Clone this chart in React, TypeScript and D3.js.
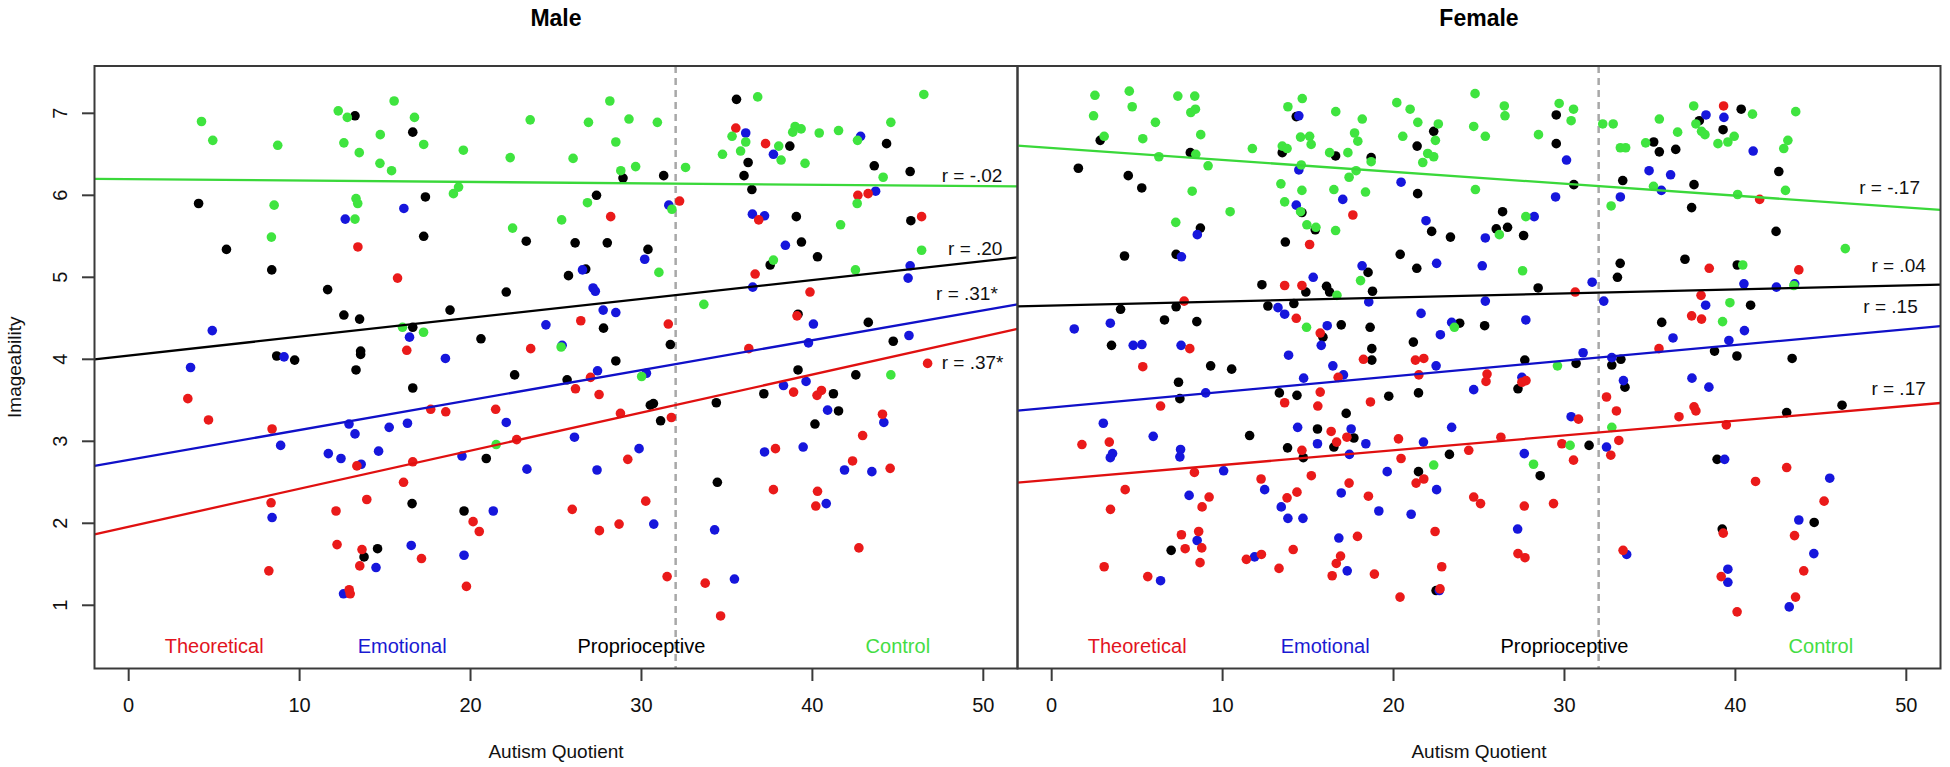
import { useEffect } from 'react';
import * as d3 from 'd3';

// [autism quotient, imageability] per word category
const maleTheoretical: [number, number][] = [
  [13.41, 5.37], [15.73, 4.99], [32.23, 5.93], [28.2, 5.74], [35.52, 6.82], [37.26, 6.63], [36.86, 5.7], [36.65, 5.04], [39.86, 4.82],
  [16.27, 4.11], [3.46, 3.52], [4.67, 3.26], [8.39, 3.15], [17.67, 3.39], [18.55, 3.36], [13.35, 2.7], [16.62, 2.75], [16.08, 2.5],
  [13.93, 2.29], [8.33, 2.25], [12.13, 2.15], [12.19, 1.74], [13.65, 1.68], [26.45, 4.47], [31.57, 4.43], [23.52, 4.13], [27.02, 3.78],
  [26.14, 3.64], [27.52, 3.57], [21.47, 3.39], [28.77, 3.34], [31.75, 3.29], [22.7, 3.02], [29.2, 2.78], [36.28, 4.13], [39.1, 4.53],
  [38.9, 3.6], [40.27, 3.56], [37.84, 2.91], [37.72, 2.41], [40.3, 2.39], [40.2, 2.21], [30.25, 2.27], [25.95, 2.17], [20.15, 2.02],
  [20.51, 1.9], [27.54, 1.91], [28.69, 1.99], [42.66, 6.0], [43.26, 6.02], [46.39, 5.74], [46.74, 3.95], [40.53, 3.62], [44.1, 3.33],
  [42.94, 3.07], [42.35, 2.76], [44.55, 2.67], [42.72, 1.7], [13.52, 1.48], [17.13, 1.57], [8.2, 1.42], [12.9, 1.19], [12.96, 1.14],
  [19.76, 1.23], [31.5, 1.35], [33.73, 1.27], [34.63, 0.87],
];
const maleEmotional: [number, number][] = [
  [12.67, 5.71], [16.1, 5.84], [31.6, 5.88], [30.19, 5.22], [26.55, 5.09], [27.17, 4.87], [27.3, 4.83], [36.1, 6.76], [37.72, 6.5],
  [36.49, 5.77], [37.2, 5.75], [38.42, 5.39], [36.51, 4.88], [4.89, 4.35], [3.62, 3.9], [9.09, 4.03], [16.43, 4.27], [18.53, 4.01],
  [12.89, 3.21], [13.24, 3.09], [15.24, 3.17], [16.31, 3.22], [8.89, 2.95], [11.68, 2.85], [12.42, 2.79], [14.62, 2.88], [13.6, 2.72],
  [8.39, 2.07], [16.53, 1.73], [27.76, 4.6], [28.5, 4.57], [24.41, 4.42], [25.36, 4.17], [27.43, 3.86], [30.29, 3.83], [22.09, 3.23],
  [26.08, 3.05], [29.86, 2.91], [19.5, 2.82], [23.3, 2.66], [27.4, 2.65], [21.33, 2.15], [30.72, 1.99], [40.06, 4.43], [39.77, 4.2],
  [39.63, 3.73], [38.31, 3.68], [37.2, 2.87], [39.46, 2.93], [34.28, 1.92], [42.82, 6.72], [43.7, 6.05], [45.72, 5.14], [45.6, 4.99],
  [45.65, 4.29], [40.89, 3.38], [44.18, 3.23], [41.88, 2.65], [43.48, 2.63], [40.81, 2.24], [14.47, 1.46], [19.62, 1.61], [12.57, 1.14],
  [35.44, 1.32],
];
const maleProprioceptive: [number, number][] = [
  [13.24, 6.97], [16.62, 6.77], [4.09, 5.9], [17.36, 5.98], [5.72, 5.34], [17.26, 5.5], [8.37, 5.09], [11.64, 4.85], [28.92, 6.21],
  [31.3, 6.24], [27.37, 6.0], [23.26, 5.44], [26.12, 5.42], [28.0, 5.42], [30.38, 5.34], [25.73, 5.02], [26.74, 5.1], [22.09, 4.82],
  [35.56, 7.17], [36.24, 6.4], [36.0, 6.24], [36.46, 6.07], [38.68, 6.6], [39.06, 5.74], [39.36, 5.43], [37.53, 5.15], [40.3, 5.25],
  [12.59, 4.54], [13.51, 4.49], [16.62, 4.39], [18.8, 4.6], [8.66, 4.04], [9.71, 3.99], [13.57, 4.1], [13.57, 4.06], [13.3, 3.87],
  [16.62, 3.65], [16.58, 2.24], [14.56, 1.69], [20.61, 4.25], [27.78, 4.38], [22.58, 3.81], [25.65, 3.75], [28.5, 3.98], [31.69, 4.18],
  [30.52, 3.44], [30.7, 3.46], [31.12, 3.25], [39.16, 4.55], [39.16, 3.87], [37.16, 3.58], [34.38, 3.47], [40.15, 3.21], [20.92, 2.79],
  [34.44, 2.5], [19.62, 2.15], [44.34, 6.63], [43.62, 6.36], [45.72, 6.29], [45.76, 5.69], [43.27, 4.45], [44.73, 4.22], [42.54, 3.81],
  [41.23, 3.58], [41.53, 3.37], [13.77, 1.59],
];
const maleControl: [number, number][] = [
  [4.26, 6.9], [4.92, 6.67], [8.72, 6.61], [12.26, 7.03], [12.79, 6.95], [15.53, 7.15], [16.72, 6.95], [14.72, 6.74], [12.59, 6.64],
  [13.49, 6.52], [17.26, 6.62], [14.7, 6.39], [15.38, 6.3], [19.0, 6.02], [19.3, 6.1], [8.51, 5.88], [13.3, 5.96], [13.4, 5.9],
  [13.24, 5.71], [8.35, 5.49], [19.58, 6.55], [22.32, 6.46], [23.49, 6.92], [26.0, 6.45], [26.9, 6.89], [28.15, 7.15], [29.27, 6.93],
  [30.93, 6.89], [28.5, 6.65], [28.79, 6.3], [29.66, 6.35], [32.58, 6.34], [26.84, 5.91], [25.33, 5.7], [22.46, 5.6], [31.78, 5.83],
  [31.02, 5.06], [36.8, 7.2], [35.3, 6.72], [36.1, 6.65], [35.8, 6.54], [34.74, 6.5], [38.03, 6.6], [38.17, 6.43], [38.99, 6.84],
  [38.85, 6.77], [39.34, 6.81], [39.57, 6.39], [40.4, 6.76], [37.72, 5.21], [16.02, 4.39], [17.25, 4.33], [25.3, 4.15], [30.01, 3.79],
  [21.5, 2.96], [33.65, 4.67], [46.52, 7.23], [44.59, 6.89], [41.53, 6.79], [42.64, 6.67], [44.14, 6.22], [42.62, 5.9], [41.65, 5.64],
  [46.39, 5.33], [42.52, 5.09], [44.59, 3.81],
];

const femaleTheoretical: [number, number][] = [
  [17.62, 5.76], [15.09, 5.4], [13.63, 4.9], [14.64, 4.9], [7.75, 4.71], [14.31, 4.5], [15.71, 4.32], [8.08, 4.13], [5.33, 3.91],
  [18.24, 4.0], [21.28, 3.99], [21.77, 4.01], [39.31, 7.09], [41.42, 5.95], [38.47, 5.11], [43.71, 5.09], [30.63, 4.82], [37.99, 4.78],
  [37.44, 4.53], [38.02, 4.49], [35.53, 4.13], [6.37, 3.43], [1.77, 2.96], [3.37, 2.99], [8.35, 2.62], [4.3, 2.41], [3.44, 2.17],
  [9.21, 2.32], [8.8, 2.2], [7.59, 1.86], [8.6, 1.9], [7.81, 1.69], [8.78, 1.7], [8.68, 1.52], [3.07, 1.47], [5.62, 1.35], [11.39, 1.56],
  [12.27, 1.62], [13.3, 1.45], [14.13, 1.68], [12.25, 2.54], [13.77, 2.31], [14.35, 2.38], [13.63, 3.47], [15.71, 3.6], [15.57, 3.43],
  [16.35, 3.12], [16.67, 2.99], [17.27, 3.05], [14.64, 2.89], [15.19, 2.58], [17.4, 2.49], [18.53, 2.33], [18.65, 3.48], [16.76, 3.78],
  [17.89, 1.84], [16.9, 1.6], [16.65, 1.51], [16.41, 1.36], [18.88, 1.38], [20.29, 3.03], [20.44, 2.79], [21.48, 3.81], [21.32, 2.49],
  [21.77, 2.54], [22.43, 1.9], [22.82, 1.47], [22.72, 1.2], [20.38, 1.1], [24.4, 2.89], [24.69, 2.32], [25.47, 3.82], [25.41, 3.73],
  [27.51, 3.72], [27.75, 3.74], [32.46, 3.54], [33.04, 3.37], [30.82, 3.27], [26.28, 3.05], [29.85, 2.97], [30.53, 2.77], [33.18, 3.01],
  [32.71, 2.83], [36.7, 3.3], [37.58, 3.42], [37.69, 3.37], [39.47, 3.2], [25.09, 2.24], [27.65, 2.21], [29.36, 2.24], [27.28, 1.63],
  [27.69, 1.58], [33.43, 1.67], [39.29, 1.88], [39.17, 1.35], [40.1, 0.92], [43.0, 2.68], [41.18, 2.51], [45.19, 2.27], [43.46, 1.85],
  [44.0, 1.42], [43.52, 1.1],
];
const femaleEmotional: [number, number][] = [
  [14.46, 6.97], [14.46, 6.31], [20.44, 6.16], [17.03, 5.95], [14.31, 5.88], [21.9, 5.69], [8.52, 5.52], [7.59, 5.25], [15.3, 5.0],
  [18.16, 5.14], [22.52, 5.17], [18.55, 4.7], [13.24, 4.63], [13.63, 4.55], [21.61, 4.56], [16.12, 4.41], [23.4, 4.45], [22.74, 4.3],
  [15.77, 4.17], [1.32, 4.37], [3.43, 4.44], [4.77, 4.17], [5.28, 4.18], [7.57, 4.17], [13.86, 4.05], [16.45, 3.92], [22.49, 3.92],
  [38.28, 6.98], [39.33, 6.95], [41.04, 6.54], [34.95, 6.3], [36.21, 6.25], [35.67, 6.06], [33.27, 5.98], [30.12, 6.43], [29.48, 5.98],
  [28.23, 5.74], [25.37, 5.48], [25.19, 5.14], [31.62, 4.94], [32.3, 4.71], [25.37, 4.71], [27.74, 4.48], [40.5, 4.92], [42.4, 4.88],
  [43.47, 4.92], [38.26, 4.66], [40.53, 4.35], [39.62, 4.23], [36.35, 4.26], [31.09, 4.08], [32.77, 4.02], [3.02, 3.22], [3.43, 2.8],
  [3.56, 2.85], [5.94, 3.06], [7.54, 2.9], [7.5, 2.81], [9.01, 3.59], [10.06, 2.64], [8.04, 2.34], [8.51, 1.79], [6.37, 1.3],
  [11.87, 1.59], [14.74, 3.77], [17.07, 3.81], [14.39, 3.17], [15.55, 2.97], [17.52, 3.15], [17.42, 2.84], [18.38, 2.97], [12.46, 2.41],
  [13.43, 2.2], [13.82, 2.06], [14.7, 2.06], [16.94, 2.37], [19.14, 2.15], [19.63, 2.63], [21.03, 2.11], [21.75, 2.99], [22.52, 2.41],
  [23.4, 3.17], [24.69, 3.63], [16.8, 1.82], [17.29, 1.42], [22.68, 1.18], [27.51, 3.78], [33.45, 3.74], [30.39, 3.3], [27.65, 2.85],
  [32.46, 2.93], [27.26, 1.93], [33.64, 1.62], [37.46, 3.77], [38.45, 3.66], [39.37, 2.78], [45.52, 2.55], [43.71, 2.04], [44.59, 1.63],
  [39.56, 1.44], [39.56, 1.28], [43.15, 0.98],
];
const femaleProprioceptive: [number, number][] = [
  [2.84, 6.67], [1.56, 6.33], [4.48, 6.24], [5.27, 6.09], [8.11, 6.52], [14.31, 6.96], [13.49, 6.52], [16.61, 6.48], [18.69, 6.46],
  [22.35, 6.78], [21.38, 6.6], [21.41, 6.02], [14.64, 5.79], [15.42, 5.58], [8.7, 5.6], [13.67, 5.43], [4.26, 5.26], [7.28, 5.28],
  [22.23, 5.56], [23.33, 5.49], [20.39, 5.28], [21.36, 5.11], [18.51, 5.06], [12.3, 4.91], [16.08, 4.89], [16.26, 4.82], [14.87, 4.82],
  [18.77, 4.83], [4.03, 4.61], [7.28, 4.64], [12.65, 4.65], [14.17, 4.68], [6.6, 4.48], [8.49, 4.46], [16.94, 4.42], [18.63, 4.39],
  [23.87, 4.44], [3.5, 4.17], [15.87, 4.27], [21.16, 4.21], [18.73, 4.13], [18.73, 3.99], [9.3, 3.92], [10.53, 3.88], [29.52, 6.98],
  [29.52, 6.63], [30.55, 6.13], [26.38, 5.8], [26.01, 5.59], [26.67, 5.61], [27.61, 5.51], [28.46, 4.87], [25.33, 4.41], [27.68, 3.99],
  [30.68, 3.95], [32.77, 3.93], [33.3, 4.0], [33.1, 5.0], [33.26, 5.17], [33.41, 6.18], [35.22, 6.65], [35.55, 6.53], [36.51, 6.56],
  [37.89, 6.91], [39.28, 6.8], [40.34, 7.05], [37.58, 6.13], [37.44, 5.85], [42.54, 6.29], [42.38, 5.56], [37.05, 5.22], [40.11, 5.15],
  [40.89, 4.66], [35.69, 4.45], [38.78, 4.1], [40.09, 4.04], [43.32, 4.01], [7.42, 3.72], [7.5, 3.52], [11.58, 3.07], [13.32, 3.59],
  [14.35, 3.56], [17.23, 3.34], [15.55, 3.15], [17.68, 3.04], [16.51, 2.93], [13.8, 2.92], [14.72, 2.8], [19.72, 3.55], [21.46, 3.59],
  [23.27, 2.84], [21.46, 2.63], [6.99, 1.67], [22.49, 1.18], [27.28, 3.64], [33.54, 3.66], [31.44, 2.95], [28.58, 2.58], [38.93, 2.78],
  [43.0, 3.35], [46.24, 3.44], [39.23, 1.93], [44.61, 2.01],
];
const femaleControl: [number, number][] = [
  [2.53, 7.22], [4.54, 7.27], [4.71, 7.08], [2.45, 6.97], [3.07, 6.72], [6.07, 6.89], [5.33, 6.69], [7.38, 7.21], [8.37, 7.21],
  [8.14, 7.01], [8.41, 7.05], [8.72, 6.74], [8.43, 6.5], [6.27, 6.47], [9.15, 6.36], [8.22, 6.05], [10.44, 5.8], [7.26, 5.67],
  [11.74, 6.57], [13.49, 6.6], [13.77, 6.57], [13.82, 7.08], [14.66, 7.18], [14.56, 6.71], [15.09, 6.72], [15.18, 6.62], [14.6, 6.37],
  [14.64, 6.06], [13.41, 6.14], [13.63, 5.92], [14.56, 5.8], [14.93, 5.64], [15.46, 5.61], [16.62, 7.02], [18.17, 6.93], [17.72, 6.76],
  [17.91, 6.66], [16.26, 6.52], [17.33, 6.52], [17.81, 6.3], [17.4, 6.22], [18.69, 6.41], [16.51, 6.07], [18.36, 6.04], [16.61, 5.57],
  [20.19, 7.13], [20.97, 7.05], [21.42, 6.89], [22.62, 6.87], [20.54, 6.72], [22.45, 6.67], [22.0, 6.51], [22.35, 6.47], [21.71, 6.4],
  [24.77, 7.24], [24.69, 6.84], [24.79, 6.07], [18.07, 4.96], [16.69, 4.78], [14.91, 4.39], [23.56, 4.39], [25.37, 6.72], [26.48, 7.09],
  [26.52, 6.97], [28.48, 6.74], [29.69, 7.12], [30.53, 7.05], [30.39, 6.91], [32.24, 6.87], [32.85, 6.87], [33.27, 6.58], [33.58, 6.58],
  [34.75, 6.64], [35.55, 6.93], [36.62, 6.77], [37.56, 7.09], [37.69, 6.87], [38.02, 6.78], [38.22, 6.74], [38.98, 6.63], [39.56, 6.65],
  [39.93, 6.72], [41.0, 6.99], [43.53, 7.02], [43.07, 6.67], [42.83, 6.57], [42.93, 6.06], [40.13, 6.01], [35.21, 6.11], [32.73, 5.87],
  [27.74, 5.74], [26.19, 5.52], [46.43, 5.35], [27.55, 5.08], [40.43, 5.15], [39.68, 4.69], [39.25, 4.46], [43.42, 4.9], [29.59, 3.92],
  [22.35, 2.71], [32.77, 3.17], [30.33, 2.95], [28.19, 2.72],
];

// fitted lines: [intercept, slope], order theoretical, emotional, proprioceptive, control
const maleFits: [number, number][] = [[1.958, 0.0464], [2.773, 0.0365], [4.046, 0.023], [6.197, -0.0017]];
const femaleFits: [number, number][] = [[2.531, 0.018], [3.411, 0.0191], [4.656, 0.0049], [6.576, -0.0145]];

// r labels: [text, x end, y]
const maleR: [string, number, number][] = [['r = .37*', 51.18, 3.96], ['r = .31*', 50.85, 4.81], ['r = .20', 51.12, 5.35], ['r = -.02', 51.12, 6.24]];
const femaleR: [string, number, number][] = [['r = .17', 51.14, 3.65], ['r = .15', 50.67, 4.65], ['r = .04', 51.14, 5.15], ['r = -.17', 50.8, 6.1]];

const categories = ['Theoretical', 'Emotional', 'Proprioceptive', 'Control'];
const categoryX = [5, 16, 30, 45];
const xTicks = [0, 10, 20, 30, 40, 50];
const yTicks = [1, 2, 3, 4, 5, 6, 7];
const cutoff = 32;

const dotColors = ['#ea1a1a', '#1616dc', '#000000', '#3fe43f'];
const lineColors = ['#e01010', '#1010c8', '#000000', '#3ad83a'];
const textColors = ['#e2141e', '#1a1ad2', '#000000', '#44dd44'];

const FONT = '"Liberation Sans", Arial, Helvetica, sans-serif';
const W = 1950, H = 767;
const TOP = 66, BOTTOM = 668.5;

const y = d3.scaleLinear().domain([0.229, 7.577]).range([BOTTOM, TOP]);

function Panel({ title, x0, x1, series, fits, rLabels, yAxis }: {
  title: string; x0: number; x1: number; series: [number, number][][];
  fits: [number, number][]; rLabels: [string, number, number][]; yAxis: boolean;
}) {
  const x = d3.scaleLinear().domain([-2, 52]).range([x0, x1]);
  const [dx0, dx1] = x.domain();
  const drawOrder = [2, 1, 0, 3];
  return (
    <g>
      <text x={(x0 + x1) / 2} y={26} textAnchor="middle" fontWeight="bold" fontSize={23} fontFamily={FONT}>{title}</text>
      <line x1={x(cutoff)} x2={x(cutoff)} y1={TOP} y2={BOTTOM} stroke="#a8a8a8" strokeWidth={2.5} strokeDasharray="7,5" />
      {drawOrder.map(ci => (
        <g key={ci}>
          {series[ci].map((d, i) => (
            <circle key={i} cx={x(d[0])} cy={y(d[1])} r={4.8} fill={dotColors[ci]} />
          ))}
        </g>
      ))}
      {fits.map(([a, b], ci) => (
        <line key={ci} x1={x(dx0)} y1={y(a + b * dx0)} x2={x(dx1)} y2={y(a + b * dx1)}
          stroke={lineColors[ci]} strokeWidth={2.3} />
      ))}
      {rLabels.map(([t, lx, ly]) => (
        <text key={t} x={x(lx)} y={y(ly)} dy="0.35em" textAnchor="end" fontSize={19} fontFamily={FONT} fill="#111">{t}</text>
      ))}
      {categories.map((c, ci) => (
        <text key={c} x={x(categoryX[ci])} y={y(0.5)} dy="0.35em" textAnchor="middle" fontSize={20}
          fontFamily={FONT} fill={textColors[ci]}>{c}</text>
      ))}
      <rect x={x0} y={TOP} width={x1 - x0} height={BOTTOM - TOP} fill="none" stroke="#3a3a3a" strokeWidth={2} />
      {xTicks.map(t => (
        <g key={t}>
          <line x1={x(t)} x2={x(t)} y1={BOTTOM} y2={BOTTOM + 12.5} stroke="#3a3a3a" strokeWidth={2} />
          <text x={x(t)} y={712} textAnchor="middle" fontSize={20} fontFamily={FONT} fill="#111">{t}</text>
        </g>
      ))}
      <text x={(x0 + x1) / 2} y={758} textAnchor="middle" fontSize={19} fontFamily={FONT} fill="#111">Autism Quotient</text>
      {yAxis && yTicks.map(t => (
        <g key={t}>
          <line x1={x0 - 12.5} x2={x0} y1={y(t)} y2={y(t)} stroke="#3a3a3a" strokeWidth={2} />
          <text transform={`translate(67,${y(t)}) rotate(-90)`} textAnchor="middle" fontSize={20} fontFamily={FONT} fill="#111">{t}</text>
        </g>
      ))}
      {yAxis && (
        <text transform={`translate(21,${(TOP + BOTTOM) / 2}) rotate(-90)`} textAnchor="middle" fontSize={19}
          fontFamily={FONT} fill="#111">Imageability</text>
      )}
    </g>
  );
}

export default function App() {
  useEffect(() => {
    document.body.style.margin = '0';
    document.body.style.background = '#fff';
  }, []);
  return (
    <svg width={W} height={H} viewBox={`0 0 ${W} ${H}`} style={{ display: 'block', background: '#fff' }}>
      <Panel title="Male" x0={94.5} x1={1017.5} yAxis
        series={[maleTheoretical, maleEmotional, maleProprioceptive, maleControl]} fits={maleFits} rLabels={maleR} />
      <Panel title="Female" x0={1017.5} x1={1940.5} yAxis={false}
        series={[femaleTheoretical, femaleEmotional, femaleProprioceptive, femaleControl]} fits={femaleFits} rLabels={femaleR} />
    </svg>
  );
}
